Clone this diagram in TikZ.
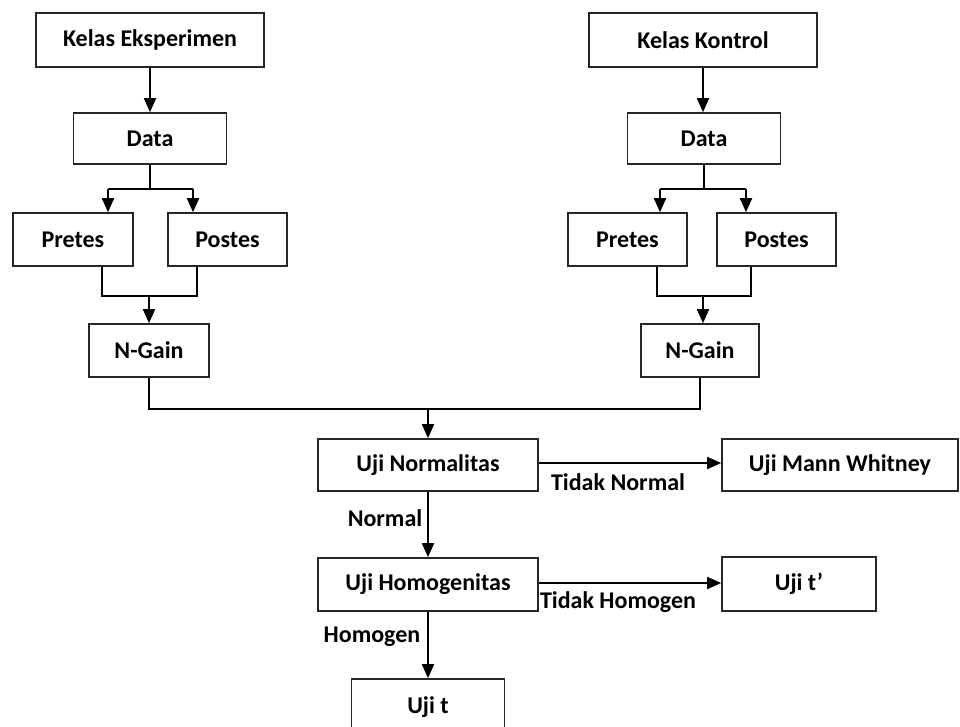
\documentclass[tikz,border=0pt]{standalone}
\usepackage{fontspec}
\setmainfont{Carlito}
\usetikzlibrary{arrows.meta,calc}
\begin{document}
\begin{tikzpicture}[x=1pt,y=-1pt,
  box/.style={draw=black!85,line width=1.6pt,fill=white,inner sep=0pt,
    font=\fontsize{24}{28}\selectfont\bfseries},
  lbl/.style={inner sep=0pt,font=\fontsize{24}{28}\selectfont\bfseries},
  ln/.style={line width=1.8pt,black},
  arr/.style={ln,-{Triangle[length=14pt,width=12pt]}}]
\useasboundingbox (0,0) rectangle (960,727);
% nodes
\node[box,minimum width=228pt,minimum height=54pt] (ke) at (150,40) {Kelas Eksperimen};
\node[box,minimum width=228pt,minimum height=54pt] (kk) at (703,40) {Kelas Kontrol};
\node[box,minimum width=153pt,minimum height=51pt] (d1) at (150,138.5) {Data};
\node[box,minimum width=153pt,minimum height=51pt] (d2) at (704,138.5) {Data};
\node[box,minimum width=120pt,minimum height=53pt] (pre1) at (73,239.5) {Pretes};
\node[box,minimum width=119pt,minimum height=53pt] (post1) at (227.5,239.5) {Postes};
\node[box,minimum width=119pt,minimum height=53pt] (pre2) at (627.5,239.5) {Pretes};
\node[box,minimum width=119pt,minimum height=53pt] (post2) at (776.5,239.5) {Postes};
\node[box,minimum width=120pt,minimum height=53pt] (ng1) at (149,350.5) {N-Gain};
\node[box,minimum width=118pt,minimum height=53pt] (ng2) at (700,350.5) {N-Gain};
\node[box,minimum width=220pt,minimum height=52pt] (un) at (428,465) {Uji Normalitas};
\node[box,minimum width=236pt,minimum height=52pt] (mw) at (840,465) {Uji Mann Whitney};
\node[box,minimum width=220pt,minimum height=53pt] (uh) at (428,584.5) {Uji Homogenitas};
\node[box,minimum width=154pt,minimum height=54pt] (utp) at (799,584) {Uji t’};
\node[box,minimum width=153pt,minimum height=56pt] (ut) at (428,707) {Uji t};
% left branch
\coordinate (bl1) at (108,189);
\coordinate (br1) at (193,189);
\draw[ln] (d1.south) -- (d1.south |- bl1);
\draw[ln] (bl1) -- (br1);
\draw[arr] (bl1) -- (bl1 |- pre1.north);
\draw[arr] (br1) -- (br1 |- post1.north);
\coordinate (jl1) at (102,296);
\coordinate (jr1) at (197,296);
\draw[ln] (jl1 |- pre1.south) -- (jl1) -- (jr1) -- (jr1 |- post1.south);
\draw[arr] (ng1.north |- jl1) -- (ng1.north);
% right branch
\coordinate (bl2) at (660,189);
\coordinate (br2) at (746,189);
\draw[ln] (d2.south) -- (d2.south |- bl2);
\draw[ln] (bl2) -- (br2);
\draw[arr] (bl2) -- (bl2 |- pre2.north);
\draw[arr] (br2) -- (br2 |- post2.north);
\coordinate (jl2) at (657,296);
\coordinate (jr2) at (751,296);
\draw[ln] (jl2 |- pre2.south) -- (jl2) -- (jr2) -- (jr2 |- post2.south);
\coordinate (mg2) at (703,296);
\draw[arr] (mg2) -- (mg2 |- ng2.north);
% top arrows
\draw[arr] (ke) -- (ke |- d1.north);
\draw[arr] (kk) -- (kk |- d2.north);
% merge
\coordinate (ml) at (149,409);
\coordinate (mr) at (700,409);
\coordinate (mm) at (428,409);
\draw[ln] (ng1.south) -- (ml) -- (mr) -- (ng2.south);
\draw[arr] (mm) -- (un.north);
% tests
\draw[arr] (un.east |- 0,463) -- (mw.west |- 0,463);
\node[lbl] at (618,482) {Tidak Normal};
\draw[arr] (un.south) -- (uh.north);
\node[lbl] at (385,518) {Normal};
\draw[arr] (uh.east |- 0,583) -- (utp.west |- 0,583);
\node[lbl] at (618,602) {Tidak Homogen};
\draw[arr] (uh.south) -- (ut.north);
\node[lbl] at (372,637) {Homogen};
\end{tikzpicture}
\end{document}
